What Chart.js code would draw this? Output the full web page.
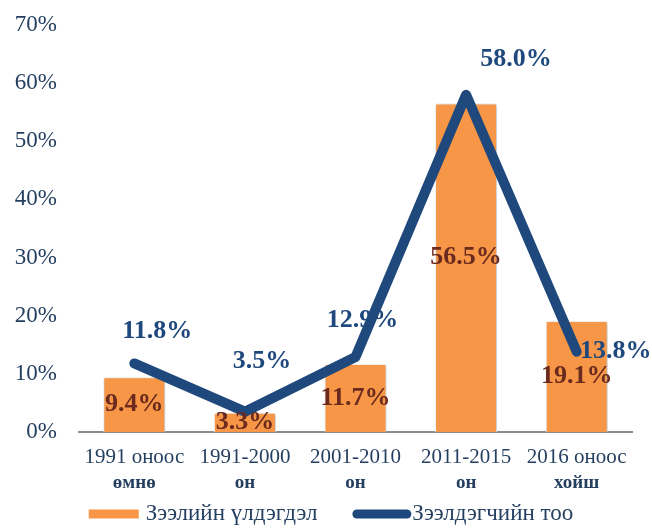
<!DOCTYPE html>
<html>
<head>
<meta charset="utf-8">
<script src="https://cdn.jsdelivr.net/npm/chart.js@4/dist/chart.umd.min.js"></script>
<style>
  html, body { margin: 0; padding: 0; background: #fff; }
  #wrap { width: 652px; height: 530px; }
</style>
</head>
<body>
<div id="wrap"><canvas id="chart" width="652" height="530"></canvas></div>
<script>
const categories = [
  ["1991 оноос", "өмнө"],
  ["1991-2000", "он"],
  ["2001-2010", "он"],
  ["2011-2015", "он"],
  ["2016 оноос", "хойш"],
];
const loanBalance = [9.4, 3.3, 11.7, 56.5, 19.1];
const borrowers = [11.8, 3.5, 12.9, 58.0, 13.8];
const yTicks = [0, 10, 20, 30, 40, 50, 60, 70];
const seriesNames = ["Зээлийн үлдэгдэл", "Зээлдэгчийн тоо"];

const ORANGE = "#F79646";
const BLUE = "#1F497D";
const LABEL_RED = "#6A2A1E";
const TEXT = "#243F60";
const SERIF = "'Liberation Serif', serif";

// label nudges, the way they were placed by hand in the original
const lineLabelShift = [[23, -32], [17, -50], [7, -37], [50, -35], [39, 0]];
const barLabelShift = [0, 0, 0, -10, 0];

const barShadow = {
  id: "barShadow",
  beforeDatasetDraw(chart, args) {
    if (args.index !== 0) return;
    const ctx = chart.ctx;
    ctx.save();
    ctx.shadowColor = "rgba(0,0,0,0.3)";
    ctx.shadowBlur = 4;
    ctx.shadowOffsetX = 1;
    ctx.shadowOffsetY = 1;
  },
  afterDatasetDraw(chart, args) {
    if (args.index !== 0) return;
    chart.ctx.restore();
  },
};

const labels = {
  id: "labels",
  afterDatasetsDraw(chart) {
    const ctx = chart.ctx;
    const x = chart.scales.x;
    ctx.save();
    ctx.textAlign = "center";
    ctx.textBaseline = "middle";

    // bar values
    ctx.font = "bold 26px " + SERIF;
    ctx.fillStyle = LABEL_RED;
    chart.getDatasetMeta(0).data.forEach((bar, i) => {
      const cy = (bar.y + bar.base) / 2 + barLabelShift[i];
      ctx.fillText(loanBalance[i].toFixed(1) + "%", bar.x, cy);
    });

    // line values
    ctx.fillStyle = BLUE;
    chart.getDatasetMeta(1).data.forEach((pt, i) => {
      const [dx, dy] = lineLabelShift[i];
      ctx.fillText(borrowers[i].toFixed(1) + "%", pt.x + dx, pt.y + dy);
    });

    // category labels, second line a bit heavier
    ctx.fillStyle = TEXT;
    categories.forEach((lines, i) => {
      const cx = x.getPixelForValue(i);
      ctx.font = "21px " + SERIF;
      ctx.fillText(lines[0], cx, x.top + 25);
      ctx.font = "bold 19px " + SERIF;
      ctx.fillText(lines[1], cx, x.top + 51);
    });
    ctx.restore();
  },
};

// legend drawn by hand: a box for the bars, a thick rounded stroke for the line
const legend = {
  id: "handLegend",
  afterDraw(chart) {
    const ctx = chart.ctx;
    ctx.save();
    ctx.font = "23px " + SERIF;
    ctx.textBaseline = "middle";
    ctx.textAlign = "left";
    const w1 = ctx.measureText(seriesNames[0]).width;
    const w2 = ctx.measureText(seriesNames[1]).width;
    const total = 50 + 7 + w1 + 35 + 59 + 1 + w2;
    const y = chart.height - 16;
    let x = chart.width / 2 + 5 - total / 2;

    ctx.fillStyle = ORANGE;
    ctx.fillRect(x, y - 4.5, 50, 9);
    x += 57;
    ctx.fillStyle = TEXT;
    ctx.fillText(seriesNames[0], x, y);
    x += w1 + 35;

    ctx.strokeStyle = BLUE;
    ctx.lineWidth = 9;
    ctx.lineCap = "round";
    ctx.beginPath();
    ctx.moveTo(x + 4.5, y);
    ctx.lineTo(x + 59 - 4.5, y);
    ctx.stroke();
    x += 60;
    ctx.fillText(seriesNames[1], x, y);
    ctx.restore();
  },
};

function draw() {
  new Chart(document.getElementById("chart"), {
    type: "bar",
    data: {
      labels: categories,
      datasets: [
        {
          type: "bar",
          label: seriesNames[0],
          data: loanBalance,
          backgroundColor: ORANGE,
          borderColor: "#ffffff",
          borderWidth: 1,
          categoryPercentage: 1,
          barPercentage: 0.56,
          order: 2,
        },
        {
          type: "line",
          label: seriesNames[1],
          data: borrowers,
          borderColor: BLUE,
          backgroundColor: BLUE,
          borderWidth: 10,
          borderCapStyle: "round",
          borderJoinStyle: "round",
          pointRadius: 0,
          tension: 0,
          order: 1,
        },
      ],
    },
    options: {
      responsive: false,
      animation: false,
      layout: { padding: { top: 25, right: 20, left: 0, bottom: 40 } },
      plugins: {
        tooltip: { enabled: false },
        legend: { display: false },
      },
      scales: {
        x: {
          grid: { display: false },
          border: { display: true, color: "#8C8C8C", width: 2 },
          ticks: { display: false },
          afterFit(scale) {
            scale.height = 58;
          },
        },
        y: {
          min: 0,
          max: 70,
          grid: { display: false, drawTicks: false },
          border: { display: false },
          afterBuildTicks(scale) {
            scale.ticks = yTicks.map((v) => ({ value: v }));
          },
          afterFit(scale) {
            // tick padding is only meant horizontally here
            scale.width = 79;
            scale.paddingTop = 0;
            scale.paddingBottom = 0;
          },
          ticks: {
            padding: 22,
            color: TEXT,
            font: { family: SERIF, size: 23 },
            callback: (v) => v + "%",
          },
        },
      },
    },
    plugins: [barShadow, labels, legend],
  });
}

Promise.all([
  document.fonts.load("23px 'Liberation Serif'"),
  document.fonts.load("bold 26px 'Liberation Serif'"),
]).then(draw, draw);
</script>
</body>
</html>
